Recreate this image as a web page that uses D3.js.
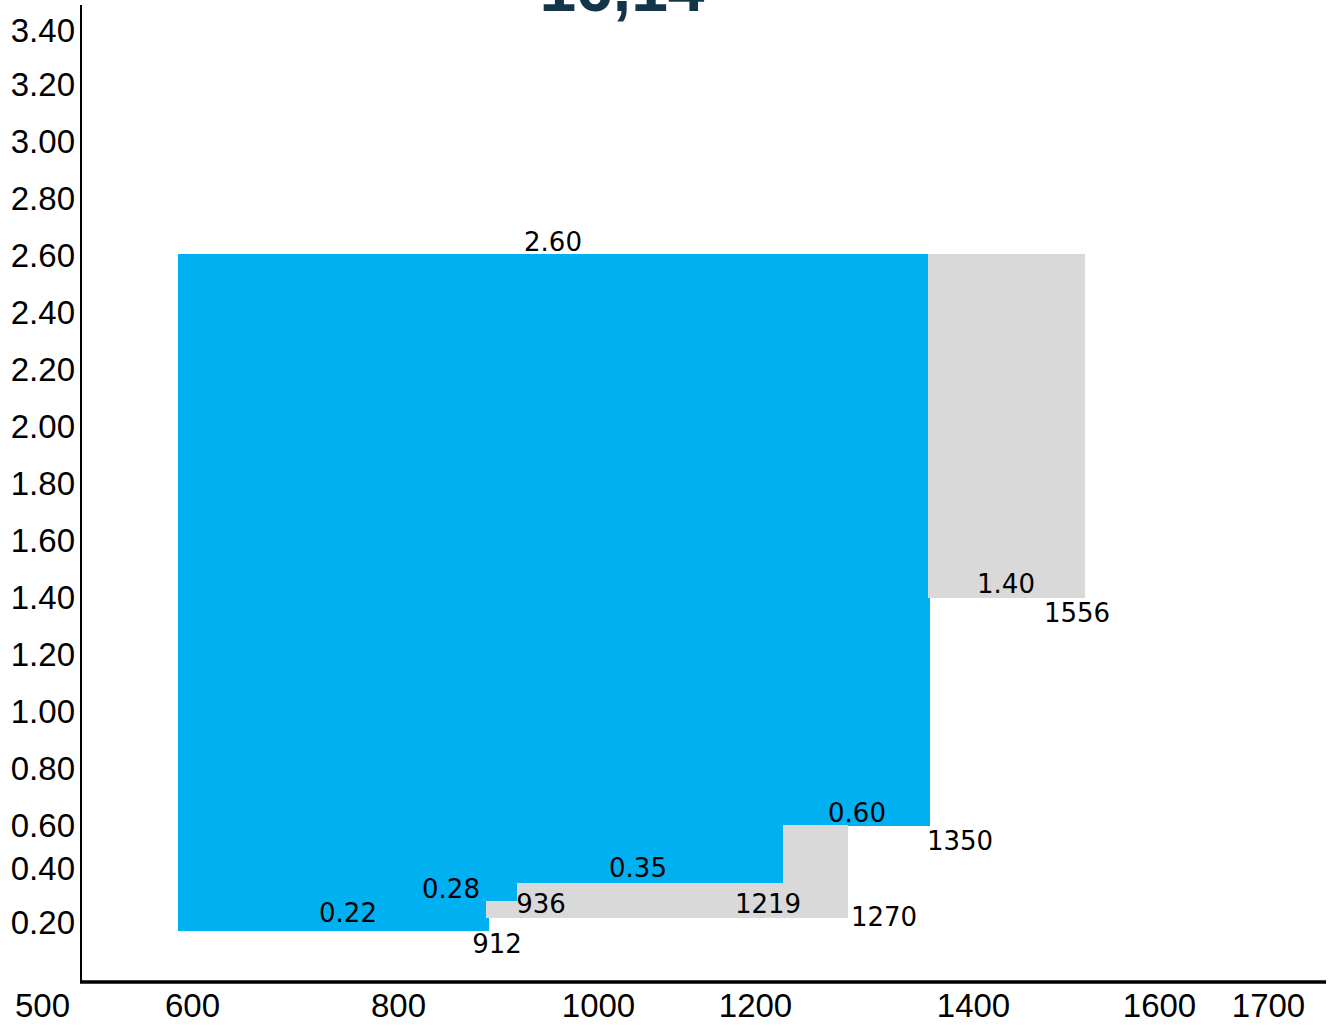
<!DOCTYPE html>
<html>
<head>
<meta charset="utf-8">
<script src="https://cdn.jsdelivr.net/npm/d3@7"></script>
<style>
  html, body { margin: 0; padding: 0; background: #ffffff; }
  svg { display: block; }
</style>
</head>
<body>
<script>
// ---------------- data ----------------
const titleText = "16,14";

// y axis tick labels and x axis tick labels
const yTicks = [0.20, 0.40, 0.60, 0.80, 1.00, 1.20, 1.40, 1.60, 1.80, 2.00, 2.20, 2.40, 2.60, 2.80, 3.00, 3.20, 3.40];
const xTicks = [500, 600, 800, 1000, 1200, 1400, 1600, 1700];

// blue step blocks (capacity from / to, price top / bottom)
const blueFrom   = [600, 600, 600, 600];
const blueTo     = [1350, 1205, 939, 911];
const blueTop    = [2.607, 0.60, 0.35, 0.28];
const blueBottom = [0.60, 0.35, 0.28, 0.17];
// the blue block below 1.40 is a hair wider
const blueExtraFrom = [1340], blueExtraTo = [1352], blueExtraTop = [1.40], blueExtraBottom = [0.60];

// grey blocks
const greyFrom   = [1350, 1205, 939, 908];
const greyTo     = [1507, 1270, 1270, 939];
const greyTop    = [2.607, 0.605, 0.35, 0.28];
const greyBottom = [1.40, 0.22, 0.22, 0.22];

// price labels
const priceText = ["2.60", "1.40", "0.60", "0.35", "0.28", "0.22"];
const priceX    = [975, 1428, 1279, 1060, 873, 770];
const priceY    = [2.617, 1.418, 0.614, 0.372, 0.291, 0.204];

// capacity labels
const capText = ["912", "936", "1219", "1270", "1350", "1556"];
const capX    = [919, 963, 1190, 1306, 1382, 1499];
const capY    = [0.089, 0.237, 0.237, 0.189, 0.488, 1.316];

// ---------------- layout ----------------
const W = 1336, H = 1027;
const svg = d3.select("body").append("svg").attr("width", W).attr("height", H);

// y scale (the original axis is not evenly spaced at its ends)
const y = d3.scaleLinear()
  .domain([0.2, 0.4, 0.6, 3.2, 3.4])
  .range([923, 869, 826, 85, 31]);

// x scale for the blocks
const x = d3.scaleLinear().domain([600, 1350]).range([178, 928]);
// x scale for the axis labels (labels sit at uneven positions)
const xAxisScale = d3.scaleLinear()
  .domain(xTicks)
  .range([42, 192, 398, 598, 755, 973, 1159, 1268]);

const blue = "#00b0f0", grey = "#d9d9d9";

function blocks(from, to, top, bottom) {
  return from.map((d, i) => ({ x0: d, x1: to[i], t: top[i], b: bottom[i] }));
}

const gBlue = svg.append("g");
gBlue.selectAll("rect")
  .data(blocks(blueFrom, blueTo, blueTop, blueBottom).concat(
        blocks(blueExtraFrom, blueExtraTo, blueExtraTop, blueExtraBottom)))
  .join("rect")
  .attr("x", d => x(d.x0))
  .attr("width", d => x(d.x1) - x(d.x0))
  .attr("y", d => y(d.t))
  .attr("height", d => y(d.b) - y(d.t))
  .attr("fill", blue)
  .attr("shape-rendering", "crispEdges");

const gGrey = svg.append("g");
gGrey.selectAll("rect")
  .data(blocks(greyFrom, greyTo, greyTop, greyBottom))
  .join("rect")
  .attr("x", d => x(d.x0))
  .attr("width", d => x(d.x1) - x(d.x0))
  .attr("y", d => y(d.t))
  .attr("height", d => y(d.b) - y(d.t))
  .attr("fill", grey)
  .attr("shape-rendering", "crispEdges");

// labels
const labelFont = "'DejaVu Sans', Verdana, sans-serif";
svg.append("g").selectAll("text")
  .data(priceText.map((t, i) => ({ t, x: priceX[i], y: priceY[i] })))
  .join("text")
  .attr("x", d => x(d.x))
  .attr("y", d => y(d.y))
  .attr("text-anchor", "middle")
  .style("font-family", labelFont)
  .style("font-size", "26px")
  .attr("fill", "#000")
  .text(d => d.t);

svg.append("g").selectAll("text")
  .data(capText.map((t, i) => ({ t, x: capX[i], y: capY[i] })))
  .join("text")
  .attr("x", d => x(d.x))
  .attr("y", d => y(d.y))
  .attr("text-anchor", "middle")
  .style("font-family", labelFont)
  .style("font-size", "26px")
  .attr("fill", "#000")
  .text(d => d.t);

// axes
const axisFont = "'Liberation Sans', Arial, sans-serif";
const gy = svg.append("g").attr("transform", "translate(81,0)")
  .call(d3.axisLeft(y).tickValues(yTicks).tickFormat(d3.format(".2f")).tickSize(0).tickPadding(6));
gy.select(".domain").remove();
gy.selectAll("text").style("font-family", axisFont).style("font-size", "33px").attr("fill", "#000");

const gx = svg.append("g").attr("transform", "translate(0,982)")
  .call(d3.axisBottom(xAxisScale).tickValues(xTicks).tickFormat(d3.format("d")).tickSize(0).tickPadding(12));
gx.select(".domain").remove();
gx.selectAll("text").style("font-family", axisFont).style("font-size", "33px").attr("fill", "#000");

// axis lines
svg.append("line").attr("x1", 81).attr("x2", 81).attr("y1", 5).attr("y2", 983)
  .attr("stroke", "#000").attr("stroke-width", 2);
svg.append("line").attr("x1", 80).attr("x2", 1326).attr("y1", 982).attr("y2", 982)
  .attr("stroke", "#000").attr("stroke-width", 3.5);

// title (cut off at the top edge, as in the original)
svg.append("text")
  .attr("x", 622).attr("y", 11)
  .attr("text-anchor", "middle")
  .style("font-family", axisFont)
  .style("font-weight", "bold")
  .style("font-size", "66px")
  .attr("fill", "#12354a")
  .text(titleText);
</script>
</body>
</html>
